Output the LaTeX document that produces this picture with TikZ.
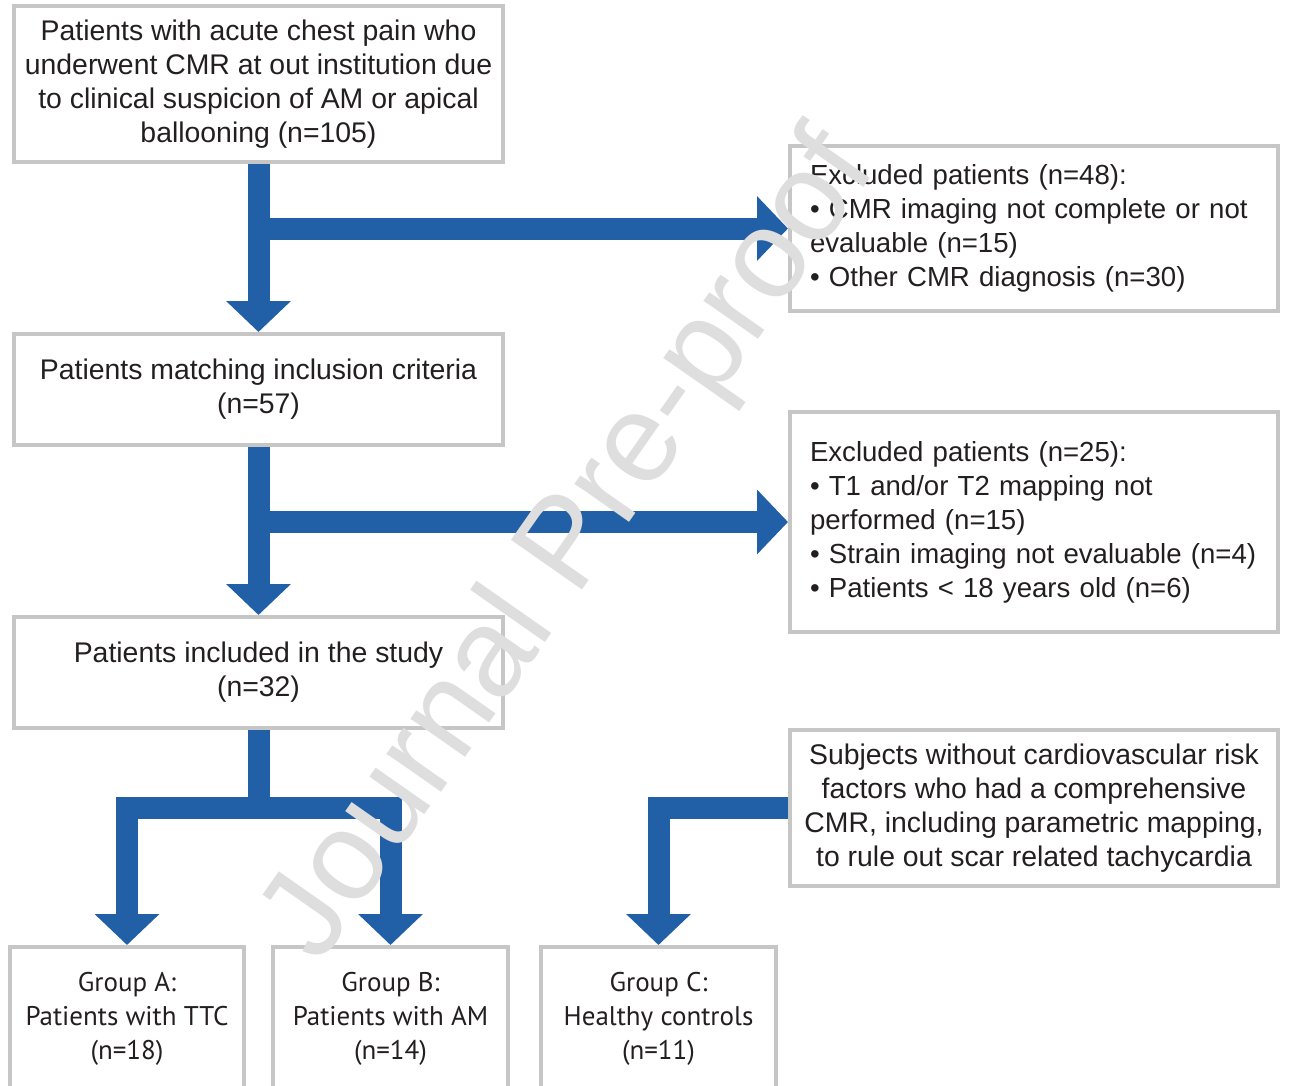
\documentclass[tikz,border=0pt]{standalone}
\usepackage{fontspec}
\setmainfont{Liberation Sans}
\newfontfamily\groupfont{PT Sans}
\usepackage{xcolor}
\usetikzlibrary{arrows.meta,positioning}
\definecolor{flowblue}{RGB}{33,95,166}
\definecolor{boxgray}{RGB}{198,198,198}
\definecolor{textdark}{RGB}{35,31,32}

\begin{document}
\begin{tikzpicture}[x=1pt,y=-1pt,
	box/.style={draw=boxgray,line width=4pt,fill=white,text=textdark,inner sep=0pt,align=center,font=\fontsize{28.4}{34}\selectfont},
	exclbox/.style={box,align=left,text width=468pt,font=\fontsize{27.6}{34}\selectfont,execute at begin node={\leftskip=10pt}},
	groupbox/.style={box,font=\groupfont\fontsize{27}{34}\selectfont},
	flowline/.style={draw=flowblue,line width=22pt,line join=miter},
	flowarrow/.style={flowline,-{Triangle[width=63pt,length=31pt]}},
	watermark/.style={rotate=55,text=black!13,font=\fontsize{126}{126}\selectfont}]
	\useasboundingbox (0,0) rectangle (1290,1085);
	% left column
	\node[box,minimum width=489pt,minimum height=156pt] (start) at (258.5,84) {Patients with acute chest pain who\\underwent CMR at out institution due\\to clinical suspicion of AM or apical\\ballooning (n=105)};
	\node[box,minimum width=489pt,minimum height=111pt] (incl) at (258.5,389.5) {Patients matching inclusion criteria\\(n=57)};
	\node[box,minimum width=489pt,minimum height=111pt] (study) at (258.5,672.5) {Patients included in the study\\(n=32)};
	% right column
	\node[exclbox,minimum width=488pt,minimum height=165pt] (excl1) at (1034,228.5) {Excluded patients (n=48):\\• CMR imaging not complete or not\\evaluable (n=15)\\• Other CMR diagnosis (n=30)};
	\node[exclbox,minimum width=488pt,minimum height=220pt] (excl2) at (1034,522) {Excluded patients (n=25):\\• T1 and/or T2 mapping not\\performed (n=15)\\• Strain imaging not evaluable (n=4)\\• Patients < 18 years old (n=6)};
	\node[box,minimum width=488pt,minimum height=156pt] (ctrl) at (1034,808) {Subjects without cardiovascular risk\\factors who had a comprehensive\\CMR, including parametric mapping,\\to rule out scar related tachycardia};
	% groups
	\node[groupbox,minimum width=234pt,minimum height=144pt] (grpA) at (127,1019) {Group A:\\Patients with TTC\\(n=18)};
	\node[groupbox,minimum width=235pt,minimum height=144pt] (grpB) at (390.5,1019) {Group B:\\Patients with AM\\(n=14)};
	\node[groupbox,minimum width=235pt,minimum height=144pt] (grpC) at (658.5,1019) {Group C:\\Healthy controls\\(n=11)};
	% arrows
	\draw[flowarrow] (start.south) -- (incl.north);
	\draw[flowarrow] (start.south |- excl1.west) -- (excl1.west);
	\draw[flowarrow] (incl.south) -- (study.north);
	\draw[flowarrow] (incl.south |- excl2.west) -- (excl2.west);
	\coordinate (split) at (study.south |- ctrl.west);
	\draw[flowline] (study.south) -- (split);
	\draw[flowarrow] (split) -| (grpA.north);
	\draw[flowarrow] (split) -| (grpB.north);
	\draw[flowarrow] (ctrl.west) -| (grpC.north);
	\node[watermark] (wm) at (572,548) {Journal Pre-proof};
\end{tikzpicture}
\end{document}
